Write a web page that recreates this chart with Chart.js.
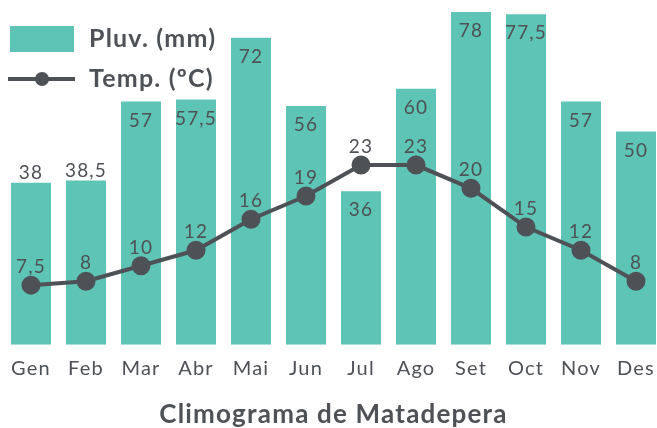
<!DOCTYPE html>
<html>
<head>
<meta charset="utf-8">
<script src="https://cdn.jsdelivr.net/npm/chart.js@4/dist/chart.umd.min.js"></script>
<style>
  html, body { margin: 0; padding: 0; background: #fff; overflow: hidden; }
  /* the line points force extra padding round the chart area, so the canvas is a bit bigger and shifted */
  canvas { display: block; margin-left: -8px; margin-top: -8px; }
</style>
</head>
<body>
<canvas id="chart" width="683" height="438"></canvas>
<script>
const months = ['Gen', 'Feb', 'Mar', 'Abr', 'Mai', 'Jun', 'Jul', 'Ago', 'Set', 'Oct', 'Nov', 'Des'];
const pluv = [38, 38.5, 57, 57.5, 72, 56, 36, 60, 78, 77.5, 57, 50];
const temp = [7.5, 8, 10, 12, 16, 19, 23, 23, 20, 15, 12, 8];
const pluvLabel = 'Pluv. (mm)';
const tempLabel = 'Temp. (ºC)';
const title = 'Climograma de Matadepera';

const teal = '#5ec4b6';
const dark = '#4e5155';
const font = 'Lato, "Open Sans", sans-serif';

// catalan style decimals
const fmt = v => String(v).replace('.', ',');

// the original font is wider than Lato, spread the letters a bit
const spacing = {
  id: 'spacing',
  beforeDraw(chart) {
    chart.ctx.letterSpacing = '1.2px';
  }
};

// value labels above line points and at top of bars
const valueLabels = {
  id: 'valueLabels',
  afterDatasetsDraw(chart) {
    const ctx = chart.ctx;
    ctx.save();
    ctx.font = '19px ' + font;
    ctx.fillStyle = dark;
    ctx.textAlign = 'center';
    ctx.textBaseline = 'middle';
    chart.getDatasetMeta(1).data.forEach((bar, i) => {
      const y = i < 2 ? bar.y - 10 : bar.y + 19;
      ctx.fillText(fmt(pluv[i]), bar.x, y);
    });
    chart.getDatasetMeta(0).data.forEach((pt, i) => {
      ctx.fillText(fmt(temp[i]), pt.x, pt.y - 18);
    });
    ctx.restore();
  }
};

// legend drawn inside the chart area, top left
const cornerLegend = {
  id: 'cornerLegend',
  afterDraw(chart) {
    const ctx = chart.ctx;
    const x0 = chart.chartArea.left;
    const y0 = chart.chartArea.top;
    ctx.save();
    ctx.fillStyle = teal;
    ctx.fillRect(x0 + 6.5, y0 + 22.5, 64, 26);
    ctx.strokeStyle = dark;
    ctx.lineWidth = 4;
    ctx.beginPath();
    ctx.moveTo(x0 + 4.5, y0 + 75.5);
    ctx.lineTo(x0 + 71.5, y0 + 75.5);
    ctx.stroke();
    ctx.fillStyle = dark;
    ctx.beginPath();
    ctx.arc(x0 + 38.5, y0 + 75.5, 7, 0, Math.PI * 2);
    ctx.fill();
    ctx.letterSpacing = '1.2px';
    ctx.font = 'bold 25px ' + font;
    ctx.textBaseline = 'middle';
    ctx.fillText(pluvLabel, x0 + 85.5, y0 + 35.5);
    ctx.fillText(tempLabel, x0 + 85.5, y0 + 75.5);
    ctx.restore();
  }
};

new Chart(document.getElementById('chart'), {
  data: {
    labels: months,
    datasets: [
      {
        type: 'line',
        label: tempLabel,
        data: temp,
        yAxisID: 'yTemp',
        borderColor: dark,
        backgroundColor: dark,
        borderWidth: 4,
        pointRadius: 7.5,
        pointHoverRadius: 7.5,
        tension: 0,
        order: 1
      },
      {
        type: 'bar',
        label: pluvLabel,
        data: pluv,
        yAxisID: 'yPluv',
        backgroundColor: teal,
        barPercentage: 0.727,
        categoryPercentage: 1,
        order: 2
      }
    ]
  },
  options: {
    responsive: false,
    animation: false,
    layout: { padding: 0 },
    plugins: {
      legend: { display: false },
      tooltip: { enabled: false },
      title: {
        display: true,
        text: title,
        position: 'bottom',
        color: dark,
        font: { family: font, size: 26, weight: 'bold' },
        padding: { top: 6, bottom: 0 }
      }
    },
    scales: {
      x: {
        grid: { display: false, drawTicks: false },
        border: { display: false },
        ticks: { color: dark, font: { family: font, size: 20 }, padding: 12 }
      },
      yPluv: { display: false, min: 0, max: 80 },
      yTemp: { display: false, min: -0.2, max: 43.85 }
    }
  },
  plugins: [spacing, valueLabels, cornerLegend]
});
</script>
</body>
</html>
